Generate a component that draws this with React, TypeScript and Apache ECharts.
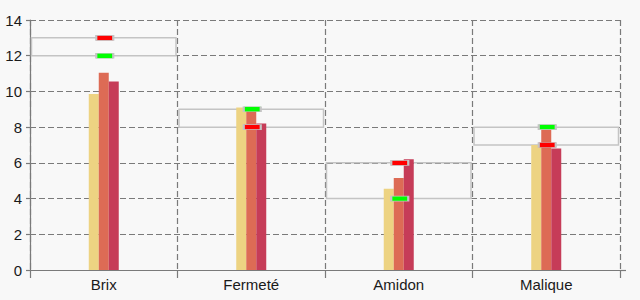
import React, { useEffect, useRef } from "react";
import * as echarts from "echarts";

const categories = ["Brix", "Fermeté", "Amidon", "Malique"];
const yellowValues = [9.85, 9.1, 4.55, 7.0];
const orangeValues = [11.05, 8.95, 5.15, 7.85];
const redValues = [10.55, 8.2, 6.2, 6.8];
const rangeLow = [12, 8, 4, 7];
const rangeHigh = [13, 9, 6, 8];
const redMarkers = [13, 8, 6, 7];
const greenMarkers = [12, 9, 4, 8];

export default function App() {
  const ref = useRef<HTMLDivElement>(null);
  useEffect(() => {
    if (!ref.current) return;
    const chart = echarts.init(ref.current, undefined, { renderer: "svg" });
    const gridColor = "#7a7a7a";
    const font = "Liberation Sans, Arial, sans-serif";
    chart.setOption({
      animation: false,
      backgroundColor: "#f8f8f8",
      grid: { left: 30, right: 20, top: 20, bottom: 30 },
      xAxis: {
        type: "category",
        data: categories,
        boundaryGap: true,
        axisLine: { lineStyle: { color: gridColor, width: 1.2 } },
        axisTick: { show: true, length: 8, lineStyle: { color: gridColor, width: 1.2 } },
        axisLabel: { color: "#1a1a1a", fontSize: 15, fontFamily: font, margin: 7 },
        splitLine: { show: true, lineStyle: { color: gridColor, type: [6, 3], width: 1.2 } },
      },
      yAxis: {
        type: "value",
        min: 0,
        max: 14,
        interval: 2,
        axisLine: { show: true, lineStyle: { color: gridColor, width: 1.2 } },
        axisTick: { show: true, length: 4, lineStyle: { color: gridColor, width: 1.2 } },
        axisLabel: { color: "#1a1a1a", fontSize: 15, fontFamily: font, margin: 8 },
        splitLine: { show: true, lineStyle: { color: gridColor, type: [6, 3], width: 1.2 } },
      },
      graphic: [
        {
          type: "line",
          shape: { x1: 620, y1: 270.5, x2: 626, y2: 270.5 },
          style: { stroke: gridColor, lineWidth: 1.2 },
        },
      ],
      series: [
        {
          type: "custom",
          z: 1,
          data: categories.map((_, i) => [i, rangeLow[i], rangeHigh[i]]),
          renderItem: (params: any, api: any) => {
            const cat = api.value(0);
            const lo = api.value(1);
            const hi = api.value(2);
            const p1 = api.coord([cat, hi]);
            const p2 = api.coord([cat, lo]);
            const w = api.size([1, 0])[0];
            return {
              type: "rect",
              shape: { x: p1[0] - w / 2 + 1.5, y: p1[1], width: w - 3, height: p2[1] - p1[1] },
              style: { fill: "none", stroke: "#c4c4c4", lineWidth: 1.5 },
            };
          },
        },
        {
          type: "bar",
          z: 2,
          data: yellowValues,
          barWidth: 10,
          barGap: "0%",
          itemStyle: { color: "#edd382" },
        },
        {
          type: "bar",
          z: 2,
          data: orangeValues,
          barWidth: 10,
          barGap: "0%",
          itemStyle: { color: "#dd6b55" },
        },
        {
          type: "bar",
          z: 2,
          data: redValues,
          barWidth: 10,
          barGap: "0%",
          itemStyle: { color: "#c63c58" },
        },
        {
          type: "scatter",
          z: 5,
          data: categories.map((_, i) => [i, redMarkers[i]]),
          symbol: "rect",
          symbolSize: [17, 5],
          symbolOffset: [1, 0],
          itemStyle: { color: "#ff0000", borderColor: "#c4c4c4", borderWidth: 1.2, opacity: 1 },
        },
        {
          type: "scatter",
          z: 5,
          data: categories.map((_, i) => [i, greenMarkers[i]]),
          symbol: "rect",
          symbolSize: [17, 5],
          symbolOffset: [1, 0],
          itemStyle: { color: "#00ff00", borderColor: "#c4c4c4", borderWidth: 1.2, opacity: 1 },
        },
      ],
    });
    return () => chart.dispose();
  }, []);
  return (
    <div
      ref={ref}
      style={{ position: "fixed", left: 0, top: 0, width: 640, height: 300 }}
    />
  );
}
